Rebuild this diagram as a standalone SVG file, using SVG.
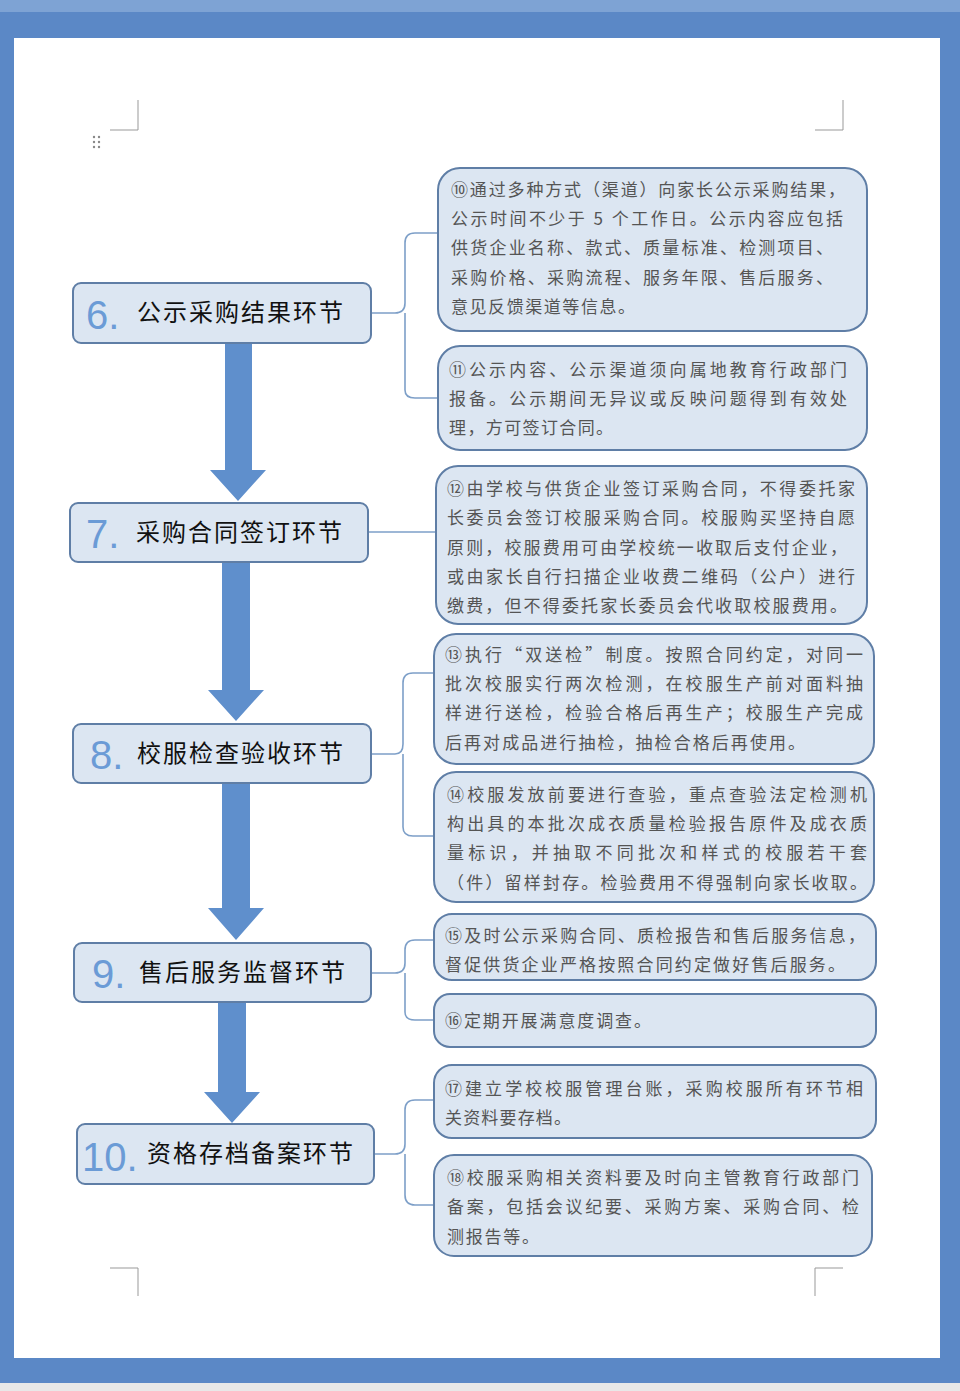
<svg xmlns="http://www.w3.org/2000/svg" width="960" height="1391" viewBox="0 0 960 1391">
<style>
.nb{fill:#dce6f2;stroke:#5f7ea6;stroke-width:2}
.num{font-family:"Liberation Sans",sans-serif;font-size:40px;fill:#6b9bd6}
.lab{font-family:"Noto Sans CJK SC",sans-serif;font-size:24px;fill:#111}
.t{font-family:"Noto Sans CJK SC",sans-serif;font-size:17px;fill:#555}
.c{fill:none;stroke:#7d9fc8;stroke-width:1.6}
.ar{fill:#5f8fcc}
.cm{fill:none;stroke:#999;stroke-width:1}
</style>
<rect width="960" height="1391" fill="#5b88c6"/>
<rect x="0" y="0" width="960" height="12" fill="#7ea3d4"/>
<rect x="0" y="1383" width="960" height="8" fill="#e8e8e8"/>
<rect x="14" y="38" width="926" height="1320" fill="#ffffff"/>
<path class="cm" d="M110 130H138V100M843 100V130H815M110 1268H138V1296M815 1296V1268H843"/>
<g fill="#888"><circle cx="94" cy="137" r="1.2"/><circle cx="99" cy="137" r="1.2"/><circle cx="94" cy="142" r="1.2"/><circle cx="99" cy="142" r="1.2"/><circle cx="94" cy="147" r="1.2"/><circle cx="99" cy="147" r="1.2"/></g>
<g id="arrows">
<path class="ar" d="M225 343H252V470H266L238 501L210 470H225Z"/>
<path class="ar" d="M222 562H250V690H264L236 721L208 690H222Z"/>
<path class="ar" d="M222 783H250V908H264L236 940L208 908H222Z"/>
<path class="ar" d="M218 1002H246V1092H260L232 1123L204 1092H218Z"/>
</g>
<g id="connectors">
<path class="c" d="M371 313H395Q405 313 405 303V243Q405 233 415 233H438M405 313V390Q405 398 415 398H438"/>
<path class="c" d="M368 532H436"/>
<path class="c" d="M371 754H395Q403 754 403 744V683Q403 673 413 673H434M403 754V827Q403 836 413 836H434"/>
<path class="c" d="M371 973H395Q405 973 405 963V950Q405 940 415 940H434M405 973V1012Q405 1020 415 1020H434"/>
<path class="c" d="M374 1154H395Q405 1154 405 1144V1110Q405 1100 415 1100H434M405 1154V1195Q405 1205 415 1205H434"/>
</g>
<g id="n6"><rect class="nb" x="73" y="283" width="298" height="60" rx="8"/><text class="num" x="86" y="329">6.</text><text class="lab" x="137" y="321" textLength="206">公示采购结果环节</text></g>
<g id="n7"><rect class="nb" x="70" y="503" width="298" height="59" rx="8"/><text class="num" x="86" y="548">7.</text><text class="lab" x="136" y="541" textLength="206">采购合同签订环节</text></g>
<g id="n8"><rect class="nb" x="73" y="724" width="298" height="59" rx="8"/><text class="num" x="90" y="769">8.</text><text class="lab" x="137" y="762" textLength="206">校服检查验收环节</text></g>
<g id="n9"><rect class="nb" x="74" y="943" width="297" height="59" rx="8"/><text class="num" x="92" y="988">9.</text><text class="lab" x="139" y="981" textLength="206">售后服务监督环节</text></g>
<g id="n10"><rect class="nb" x="77" y="1124" width="297" height="60" rx="8"/><text class="num" x="82" y="1171">10.</text><text class="lab" x="147" y="1162" textLength="206">资格存档备案环节</text></g>
<g id="b10"><rect class="nb" x="438" y="168" width="429" height="163" rx="22"/>
<text class="t" x="451" y="196" textLength="394">⑩通过多种方式（渠道）向家长公示采购结果，</text>
<text class="t" x="451" y="225" textLength="392">公示时间不少于 5 个工作日。公示内容应包括</text>
<text class="t" x="451" y="254" textLength="382">供货企业名称、款式、质量标准、检测项目、</text>
<text class="t" x="451" y="284" textLength="382">采购价格、采购流程、服务年限、售后服务、</text>
<text class="t" x="451" y="313" textLength="184">意见反馈渠道等信息。</text></g>
<g id="b11"><rect class="nb" x="438" y="346" width="429" height="104" rx="22"/>
<text class="t" x="449" y="376" textLength="398">⑪公示内容、公示渠道须向属地教育行政部门</text>
<text class="t" x="449" y="405" textLength="398">报备。公示期间无异议或反映问题得到有效处</text>
<text class="t" x="449" y="434" textLength="164">理，方可签订合同。</text></g>
<g id="b12"><rect class="nb" x="436" y="466" width="431" height="158" rx="22"/>
<text class="t" x="447" y="495" textLength="408">⑫由学校与供货企业签订采购合同，不得委托家</text>
<text class="t" x="447" y="524" textLength="408">长委员会签订校服采购合同。校服购买坚持自愿</text>
<text class="t" x="447" y="554" textLength="400">原则，校服费用可由学校统一收取后支付企业，</text>
<text class="t" x="447" y="583" textLength="408">或由家长自行扫描企业收费二维码（公户）进行</text>
<text class="t" x="447" y="612" textLength="400">缴费，但不得委托家长委员会代收取校服费用。</text></g>
<g id="b13"><rect class="nb" x="434" y="634" width="440" height="130" rx="22"/>
<text class="t" x="445" y="661" textLength="418">⑬执行“双送检”制度。按照合同约定，对同一</text>
<text class="t" x="445" y="690" textLength="418">批次校服实行两次检测，在校服生产前对面料抽</text>
<text class="t" x="445" y="719" textLength="418">样进行送检，检验合格后再生产；校服生产完成</text>
<text class="t" x="445" y="749" textLength="360">后再对成品进行抽检，抽检合格后再使用。</text></g>
<g id="b14"><rect class="nb" x="434" y="772" width="440" height="130" rx="22"/>
<text class="t" x="447" y="801" textLength="420">⑭校服发放前要进行查验，重点查验法定检测机</text>
<text class="t" x="447" y="830" textLength="420">构出具的本批次成衣质量检验报告原件及成衣质</text>
<text class="t" x="447" y="859" textLength="420">量标识，并抽取不同批次和样式的校服若干套</text>
<text class="t" x="447" y="889" textLength="420">（件）留样封存。检验费用不得强制向家长收取。</text></g>
<g id="b15"><rect class="nb" x="434" y="914" width="442" height="66" rx="18"/>
<text class="t" x="445" y="942" textLength="420">⑮及时公示采购合同、质检报告和售后服务信息，</text>
<text class="t" x="445" y="971" textLength="400">督促供货企业严格按照合同约定做好售后服务。</text></g>
<g id="b16"><rect class="nb" x="434" y="994" width="442" height="53" rx="16"/>
<text class="t" x="445" y="1027" textLength="206">⑯定期开展满意度调查。</text></g>
<g id="b17"><rect class="nb" x="434" y="1065" width="442" height="73" rx="18"/>
<text class="t" x="445" y="1095" textLength="418">⑰建立学校校服管理台账，采购校服所有环节相</text>
<text class="t" x="445" y="1124" textLength="126">关资料要存档。</text></g>
<g id="b18"><rect class="nb" x="434" y="1155" width="438" height="101" rx="20"/>
<text class="t" x="447" y="1184" textLength="412">⑱校服采购相关资料要及时向主管教育行政部门</text>
<text class="t" x="447" y="1213" textLength="412">备案，包括会议纪要、采购方案、采购合同、检</text>
<text class="t" x="447" y="1243" textLength="92">测报告等。</text></g>
</svg>
